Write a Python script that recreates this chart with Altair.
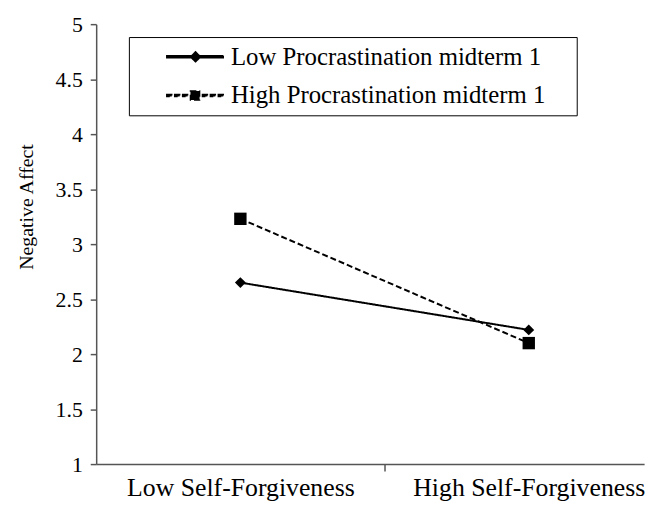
import altair as alt
import pandas as pd

categories = ["Low Self-Forgiveness", "High Self-Forgiveness"]
series_names = ["Low Procrastination midterm 1", "High Procrastination midterm 1"]
low_proc = [2.65, 2.22]
high_proc = [3.23, 2.10]
y_ticks = [1, 1.5, 2, 2.5, 3, 3.5, 4, 4.5, 5]

rows = []
for s, vals in zip(series_names, [low_proc, high_proc]):
    for i, (c, v) in enumerate(zip(categories, vals)):
        rows.append({"series": s, "category": c, "pos": i + 0.5, "value": v})
df = pd.DataFrame(rows)

FONT = "Liberation Serif"
AXIS_COLOR = "#555555"

label_expr = (
    f"datum.value == 0.5 ? '{categories[0]}' : "
    f"datum.value == 1.5 ? '{categories[1]}' : ''"
)

x_enc = alt.X(
    "pos:Q",
    scale=alt.Scale(domain=[0, 1.9], nice=False, zero=False),
    axis=alt.Axis(
        values=[0.5, 1, 1.5],
        labelExpr=label_expr,
        title=None,
        grid=False,
        tickSize=7,
        tickWidth=1.5,
        tickColor=AXIS_COLOR,
        tickOpacity={"condition": {"test": "datum.value == 1", "value": 1}, "value": 0},
        domainColor=AXIS_COLOR,
        domainWidth=1.5,
        labelFont=FONT,
        labelFontSize=26,
        labelColor="black",
        labelPadding=4,
        labelLimit=400,
        labelFlush=False,
        labelOverlap=False,
        labelBound=False,
    ),
)

y_enc = alt.Y(
    "value:Q",
    scale=alt.Scale(domain=[1, 5], nice=False, zero=False),
    axis=alt.Axis(
        values=y_ticks,
        format="~g",
        title="Negative Affect",
        titleFont=FONT,
        titleFontSize=20,
        titleFontWeight="normal",
        titleColor="black",
        titleAngle=270,
        titleX=-70,
        titleY=184,
        titleAlign="center",
        titleBaseline="middle",
        grid=False,
        tickSize=6,
        tickWidth=1.5,
        tickColor=AXIS_COLOR,
        domainColor=AXIS_COLOR,
        domainWidth=1.5,
        labelFont=FONT,
        labelFontSize=22,
        labelColor="black",
        labelPadding=8,
    ),
)

# legend key glyphs drawn as filled custom paths (unit = sqrt(size)/2 = 12px)
U, C = 12.0, 149.75


def u(px):
    return round((px - C) / U, 3)


def rect(x0, x1, h=1.0):
    t = round(h / U, 3)
    return f"M{u(x0)},{-t}L{u(x1)},{-t}L{u(x1)},{t}L{u(x0)},{t}Z"


def diamond(cx, half):
    a, r = u(cx), round(half / U, 3)
    return f"M{a},{-r}L{round(a + r, 3)},0L{a},{r}L{round(a - r, 3)},0Z"


def square(cx, half):
    a, r = u(cx), round(half / U, 3)
    return (f"M{round(a - r, 3)},{-r}L{round(a + r, 3)},{-r}"
            f"L{round(a + r, 3)},{r}L{round(a - r, 3)},{r}Z")


p_low = rect(168, 225) + diamond(197, 5)
dashes = [(168, 173), (176, 181), (184, 189), (204, 209), (212, 217), (220, 225)]
p_high = "".join(rect(a, b) for a, b in dashes) + square(196.5, 4.6)

legend = alt.Legend(
    title=" ",
    titleOrient="right",
    titlePadding=25,
    titleFontSize=1,
    orient="none",
    legendX=33,
    legendY=13,
    direction="vertical",
    strokeColor="black",
    padding=7,
    symbolSize=576,
    symbolStrokeWidth=1.5,
    symbolFillColor="black",
    symbolOpacity=1,
    labelFont=FONT,
    labelFontSize=25,
    labelColor="black",
    labelOffset=70,
    labelLimit=500,
    rowPadding=13,
)

lines = alt.Chart(df).mark_line(color="black", strokeWidth=2).encode(
    x=x_enc,
    y=y_enc,
    strokeDash=alt.StrokeDash(
        "series:N",
        scale=alt.Scale(domain=series_names, range=[[1, 0], [6, 3]]),
        legend=legend,
    ),
)

legend_keys = alt.Chart(df).mark_point(filled=True, color="black", opacity=0).encode(
    x=x_enc,
    y=y_enc,
    shape=alt.Shape(
        "series:N",
        scale=alt.Scale(domain=series_names, range=[p_low, p_high]),
        legend=legend,
    ),
)

diamonds = (
    alt.Chart(df)
    .transform_filter(alt.datum.series == series_names[0])
    .mark_point(shape="diamond", filled=True, color="black", opacity=1, size=121)
    .encode(x=x_enc, y=y_enc)
)
squares = (
    alt.Chart(df)
    .transform_filter(alt.datum.series == series_names[1])
    .mark_point(shape="square", filled=True, color="black", opacity=1, size=156)
    .encode(x=x_enc, y=y_enc)
)

chart = (
    alt.layer(lines, legend_keys, diamonds, squares)
    .properties(
        width=553,
        height=444,
        autosize=alt.AutoSizeParams(type="none"),
        padding={"left": 89, "top": 14, "right": 12, "bottom": 40},
        background="white",
    )
    .configure_view(stroke=None)
)

chart.save("out.html", embed_options={"renderer": "svg", "actions": False})
